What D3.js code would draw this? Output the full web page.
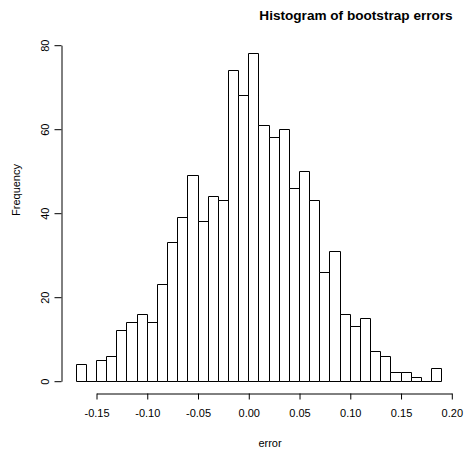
<!DOCTYPE html>
<html>
<head>
<meta charset="utf-8">
<script src="https://cdn.jsdelivr.net/npm/d3@7"></script>
<style>
  body { margin: 0; background: #fff; }
  svg text { font-family: "Liberation Sans", Arial, Helvetica, sans-serif; fill: #000; }
</style>
</head>
<body>
<div id="plot"></div>
<script>
////////////////////////////////////////////////////////////////////////
// Data: histogram of bootstrap errors, bins of width 0.01

let binStart = -0.17;
let binWidth = 0.01;
let counts = [4, 0, 5, 6, 12, 14, 16, 14, 23, 33, 39, 49, 38, 44, 43, 74, 68, 78,
              61, 58, 60, 46, 50, 43, 26, 31, 16, 13, 15, 7, 6, 2, 2, 1, 0, 3];

let xTicks = [-0.15, -0.10, -0.05, 0.00, 0.05, 0.10, 0.15, 0.20];
let xTickLabels = ["-0.15", "-0.10", "-0.05", "0.00", "0.05", "0.10", "0.15", "0.20"];
let yTicks = [0, 20, 40, 60, 80];
let yTickLabels = ["0", "20", "40", "60", "80"];

let title = "Histogram of bootstrap errors";
let xLabel = "error";
let yLabel = "Frequency";

////////////////////////////////////////////////////////////////////////
// Scales and svg

let width = 472, height = 449;

let xScale = d3.scaleLinear().domain([-0.15, 0.20]).range([96, 451.3]);
let yScale = d3.scaleLinear().domain([0, 80]).range([380.7, 44.7]);

let svg = d3.select("#plot")
  .append("svg")
  .attr("width", width)
  .attr("height", height);

let bins = counts.map(function(c, i) {
  return { x0: binStart + i * binWidth, x1: binStart + (i + 1) * binWidth, count: c };
});

// bars as closed paths, so empty bins still show a flat line like R does
// (snap to half pixels so 1px strokes stay crisp)
function barPath(d) {
  let l = Math.round(xScale(d.x0)) + 0.5;
  let r = Math.round(xScale(d.x1)) + 0.5;
  let t = Math.round(yScale(d.count)) + 0.5;
  let b = Math.round(yScale(0)) + 0.5;
  return "M" + l + "," + b + "L" + l + "," + t + "L" + r + "," + t + "L" + r + "," + b + "Z";
}

svg.append("g")
  .selectAll("path")
  .data(bins)
  .enter()
  .append("path")
  .attr("d", barPath)
  .attr("fill", "#fff")
  .attr("stroke", "#000")
  .attr("stroke-width", 1);

////////////////////////////////////////////////////////////////////////
// Axes

let xAxis = d3.axisBottom(xScale)
  .tickValues(xTicks)
  .tickFormat(function(d, i) { return xTickLabels[i]; })
  .tickSizeInner(6)
  .tickSizeOuter(0)
  .tickPadding(10);

let xg = svg.append("g")
  .attr("transform", "translate(0.5,393.5)")
  .call(xAxis);
xg.selectAll("text").attr("font-size", "11px").attr("font-family", null);

let yAxis = d3.axisLeft(yScale)
  .tickValues(yTicks)
  .tickFormat(function(d, i) { return yTickLabels[i]; })
  .tickSizeInner(7)
  .tickSizeOuter(0);

let yg = svg.append("g")
  .attr("transform", "translate(61.5,0.5)")
  .call(yAxis);
// R draws the y tick labels parallel to the axis
yg.selectAll("text")
  .attr("font-size", "11px")
  .attr("font-family", null)
  .attr("x", null)
  .attr("dy", null)
  .attr("text-anchor", "middle")
  .attr("transform", "translate(-13,0) rotate(-90)");

svg.selectAll(".domain, .tick line").attr("stroke", "#000");
svg.selectAll(".tick text").attr("fill", "#000");

////////////////////////////////////////////////////////////////////////
// Labels

svg.append("text")
  .attr("x", 356)
  .attr("y", 20)
  .attr("text-anchor", "middle")
  .attr("font-size", "13.6px")
  .attr("font-weight", "bold")
  .text(title);

svg.append("text")
  .attr("x", 270)
  .attr("y", 447)
  .attr("text-anchor", "middle")
  .attr("font-size", "11px")
  .text(xLabel);

svg.append("text")
  .attr("transform", "translate(20,190) rotate(-90)")
  .attr("text-anchor", "middle")
  .attr("font-size", "11px")
  .text(yLabel);
</script>
</body>
</html>
